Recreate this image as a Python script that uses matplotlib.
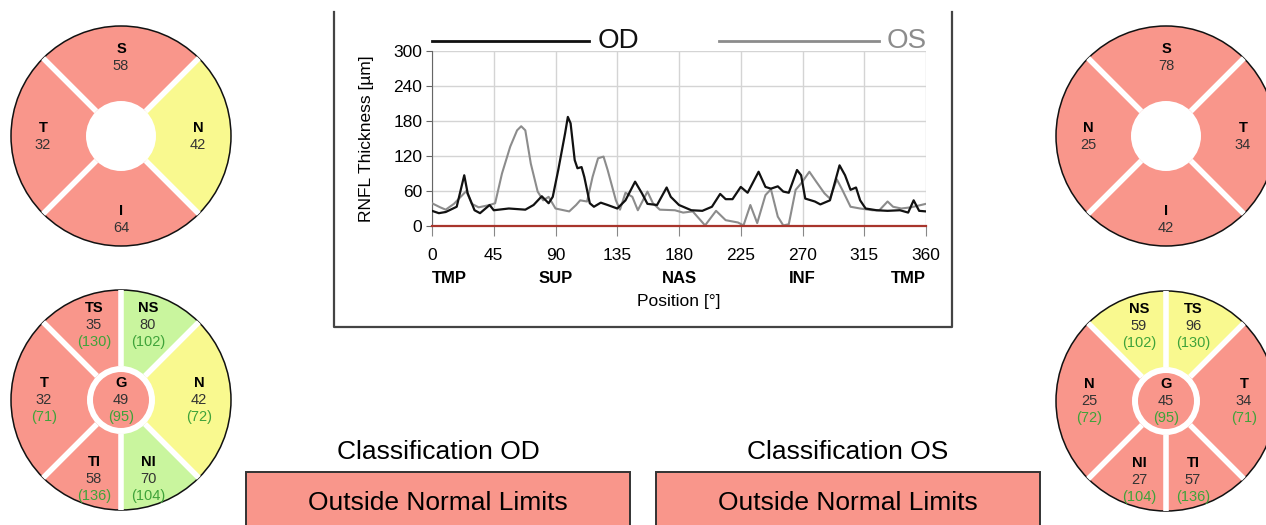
import matplotlib
matplotlib.use('Agg')
import matplotlib.pyplot as plt
from matplotlib.patches import Wedge, Circle, Rectangle
import numpy as np

plt.rcParams['font.family'] = ['Liberation Sans', 'DejaVu Sans']

# --- RNFL profile (degrees, µm) ---
od_deg = [0, 5, 10, 18, 23.5, 26, 31, 35, 42, 45, 56, 68, 74, 80, 85, 88, 92, 97, 99, 101,
          104, 106, 109, 111, 115, 118, 123, 128, 135, 141, 148, 153, 157, 164, 171, 174, 180,
          189, 197, 204, 210, 214, 219, 225, 230, 238, 243, 247, 252, 256, 260, 266, 269, 272,
          279, 283, 290, 297, 301, 305, 309, 312, 316, 324, 332, 341, 347, 351, 355, 360]
od_val = [26, 22, 24, 33, 87, 56, 27, 22, 36, 27, 30, 28, 36, 51, 39, 50, 96, 159, 187, 176,
          113, 99, 101, 84, 39, 33, 40, 36, 30, 44, 76, 56, 38, 36, 66, 50, 36,
          27, 26, 33, 55, 46, 46, 67, 57, 93, 67, 64, 68, 59, 57, 96, 87, 47,
          42, 37, 44, 104, 87, 62, 66, 44, 30, 27, 26, 27, 23, 44, 26, 25]

os_deg = [0, 6, 10, 16, 25, 29, 34, 42, 46, 51, 57, 62, 65, 68, 72, 77, 81, 85, 90, 100,
          105, 108, 113, 117, 121, 125, 128, 134, 137, 141, 146, 150, 157, 161, 166, 177, 183,
          190, 199, 207, 214, 223, 227, 232, 237, 243, 247, 252, 256, 260, 265, 269, 275, 280,
          286, 290, 295, 299, 305, 312, 321, 326, 332, 336, 342, 349, 360]
os_val = [39, 32, 28, 38, 60, 38, 32, 36, 39, 90, 136, 164, 171, 164, 107, 59, 44, 50, 30, 25,
          36, 44, 42, 84, 116, 119, 96, 44, 28, 57, 50, 27, 59, 39, 28, 27, 23,
          25, 1, 26, 10, 6, 1, 36, 5, 53, 63, 16, 1, 3, 62, 73, 93, 76,
          56, 47, 80, 62, 33, 30, 27, 27, 42, 33, 30, 32, 38]

x_ticks = [0, 45, 90, 135, 180, 225, 270, 315, 360]
y_ticks = [0, 60, 120, 180, 240, 300]
region_pos = [0, 90, 180, 270, 360]
region_names = ['TMP', 'SUP', 'NAS', 'INF', 'TMP']

# --- sector diagrams ---
quad_od_names = ['S', 'T', 'N', 'I']
quad_od_vals = [58, 32, 42, 64]
quad_od_state = ['r', 'r', 'y', 'r']
quad_os_names = ['S', 'N', 'T', 'I']
quad_os_vals = [78, 25, 34, 42]
quad_os_state = ['r', 'r', 'r', 'r']

sect_od_names = ['TS', 'NS', 'T', 'G', 'N', 'TI', 'NI']
sect_od_vals = [35, 80, 32, 49, 42, 58, 70]
sect_od_norm = [130, 102, 71, 95, 72, 136, 104]
sect_od_state = ['r', 'g', 'r', 'r', 'y', 'r', 'g']
sect_os_names = ['NS', 'TS', 'N', 'G', 'T', 'NI', 'TI']
sect_os_vals = [59, 96, 25, 45, 34, 27, 57]
sect_os_norm = [102, 130, 72, 95, 71, 104, 136]
sect_os_state = ['y', 'y', 'r', 'r', 'r', 'r', 'r']

class_od = 'Outside Normal Limits'
class_os = 'Outside Normal Limits'

COL = {'r': '#F9968B', 'y': '#F9F98F', 'g': '#C9F59E'}
W, H = 1266, 525

fig = plt.figure(figsize=(W / 100, H / 100), dpi=100)
bg = fig.add_axes([0, 0, 1, 1])
bg.set_xlim(0, W)
bg.set_ylim(H, 0)
bg.axis('off')

# panel frame round the chart (top edge cut off in the screenshot)
bg.plot([334, 334, 952, 952], [12, 327, 327, 12], color='#444444', lw=1.6)

# --- chart ---
ax = fig.add_axes([432 / W, 1 - 226 / H, 494 / W, 175 / H])
ax.plot(os_deg, os_val, color='#8c8c8c', lw=1.5, zorder=3)
ax.plot(od_deg, od_val, color='#111111', lw=1.6, zorder=4)
ax.set_xlim(0, 360)
ax.set_ylim(0, 300)
ax.set_xticks(x_ticks)
ax.set_yticks(y_ticks)
ax.grid(True, color='#d4d4d4', lw=1)
for s in ['top', 'right']:
    ax.spines[s].set_visible(False)
ax.spines['left'].set_color('#666666')
ax.spines['bottom'].set_color('#a8352c')
ax.spines['bottom'].set_linewidth(1.6)
ax.spines['bottom'].set_zorder(5)
ax.tick_params(axis='y', length=4, color='#666666', labelsize=12.5, pad=3)
ax.tick_params(axis='x', length=7, color='#888888', labelsize=12.5, pad=9)
ax.set_ylabel('RNFL Thickness [µm]', fontsize=12.5)
ax.yaxis.set_label_coords(-0.118, 0.5)
for p, name in zip(region_pos, region_names):
    ha = 'left' if p == 0 else ('right' if p == 360 else 'center')
    ax.text(p, -0.30, name, transform=ax.get_xaxis_transform(), ha=ha, va='center',
            fontsize=12, fontweight='bold')
ax.text(180, -0.43, 'Position [°]', transform=ax.get_xaxis_transform(), ha='center',
        va='center', fontsize=12.5)

# manual legend above the plot
ax.plot([0, 0.318], [1.06, 1.06], transform=ax.transAxes, color='#111111', lw=2, clip_on=False)
ax.text(0.336, 1.06, 'OD', transform=ax.transAxes, va='center', ha='left', fontsize=20,
        color='#111111')
ax.plot([0.581, 0.905], [1.06, 1.06], transform=ax.transAxes, color='#8c8c8c', lw=2, clip_on=False)
ax.text(0.921, 1.06, 'OS', transform=ax.transAxes, va='center', ha='left', fontsize=20,
        color='#8c8c8c')


def diagram(cx, cy, names, vals, states, angles, label_xy, norms=None, center_idx=None):
    R = 110
    a = fig.add_axes([(cx - 120) / W, 1 - (cy + 120) / H, 240 / W, 240 / H])
    a.set_xlim(-120, 120)
    a.set_ylim(-120, 120)
    a.axis('off')
    a.patch.set_alpha(0)
    seps = set()
    for i, (n, st) in enumerate(zip(names, states)):
        if i == center_idx:
            continue
        t1, t2 = angles[i]
        a.add_patch(Wedge((0, 0), R, t1, t2, facecolor=COL[st], edgecolor='none'))
        seps.add(t1 % 360)
        seps.add(t2 % 360)
    r0 = 35 if center_idx is None else 34
    for t in seps:
        c, s = np.cos(np.radians(t)), np.sin(np.radians(t))
        a.plot([r0 * c, R * c], [r0 * s, R * s], color='white', lw=4, solid_capstyle='butt')
    a.add_patch(Circle((0, 0), r0, facecolor='white', edgecolor='none'))
    if center_idx is not None:
        a.add_patch(Circle((0, 0), 28, facecolor=COL[states[center_idx]], edgecolor='none'))
    a.add_patch(Circle((0, 0), R, fill=False, edgecolor='#111111', lw=1.1))
    for i, n in enumerate(names):
        lx, ly = label_xy[i]
        a.text(lx, ly, n, ha='center', va='center', fontsize=10.5, fontweight='bold')
        a.text(lx, ly - 17, str(vals[i]), ha='center', va='center', fontsize=10.5, color='#333333')
        if norms is not None:
            a.text(lx, ly - 34, '(%d)' % norms[i], ha='center', va='center', fontsize=10.5,
                   color='#3fa33a')


quad_od_ang = [(45, 135), (135, 225), (-45, 45), (225, 315)]
quad_od_xy = [(0, 87), (-78, 8), (77, 8), (0, -75)]
quad_os_ang = [(45, 135), (135, 225), (-45, 45), (225, 315)]
quad_os_xy = [(0, 87), (-78, 8), (77, 8), (0, -75)]
diagram(121, 136, quad_od_names, quad_od_vals, quad_od_state, quad_od_ang, quad_od_xy)
diagram(1166, 136, quad_os_names, quad_os_vals, quad_os_state, quad_os_ang, quad_os_xy)

sect_ang = [(90, 135), (45, 90), (135, 225), None, (-45, 45), (225, 270), (270, 315)]
sect_xy = [(-27, 92), (27, 92), (-77, 17), (0, 17), (78, 17), (-27, -62), (27, -62)]
diagram(121, 400, sect_od_names, sect_od_vals, sect_od_state, sect_ang, sect_xy,
        norms=sect_od_norm, center_idx=3)
diagram(1166, 401, sect_os_names, sect_os_vals, sect_os_state, sect_ang, sect_xy,
        norms=sect_os_norm, center_idx=3)

# --- classification boxes ---
for x0, title, res in [(246, 'Classification OD', class_od), (656, 'Classification OS', class_os)]:
    bg.add_patch(Rectangle((x0, 472), 384, 70, facecolor=COL['r'], edgecolor='#333333', lw=1.4))
    bg.text(x0 + 192, 452, title, ha='center', va='center', fontsize=19)
    bg.text(x0 + 192, 503, res, ha='center', va='center', fontsize=19)

fig.savefig('out.png', dpi=100)
